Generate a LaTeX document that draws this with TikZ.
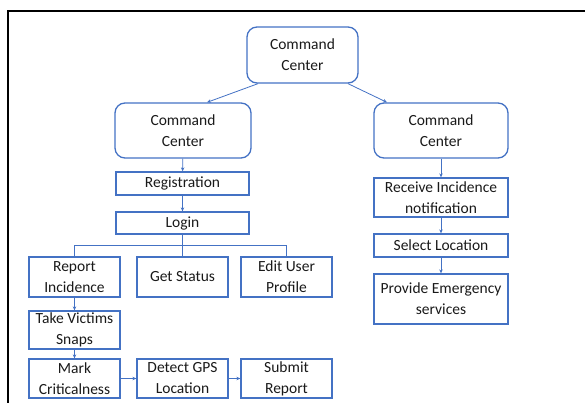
\documentclass[tikz,border=0pt]{standalone}
\usepackage{fontspec}
\setmainfont{Carlito}
\usetikzlibrary{arrows.meta,calc}
\definecolor{bl}{HTML}{4472C4}
\begin{document}
\begin{tikzpicture}[x=1pt,y=-1pt,
  box/.style={draw=bl,line width=1.3pt,align=center,inner sep=0pt,font=\fontsize{15.5}{21}\selectfont,text=black!90},
  rbox/.style={box,rounded corners=10pt},
  arr/.style={draw=bl,line width=0.8pt,-{Stealth[length=4pt,width=3.5pt]}},
  ln/.style={draw=bl,line width=0.8pt}]
\useasboundingbox (0,0) rectangle (585,403);
\begin{scope}
\clip (0,0) rectangle (585,403);
\draw[line width=2pt] (8,11) rectangle (600,420);
\end{scope}
\node[rbox,minimum width=111pt,minimum height=56pt] (top) at (302.5,55) {Command\\Center};
\node[rbox,minimum width=136pt,minimum height=55pt] (lcc) at (183,130.5) {Command\\Center};
\node[rbox,minimum width=134pt,minimum height=55pt] (rcc) at (441,130.5) {Command\\Center};
\node[box,minimum width=133pt,minimum height=23pt] (reg) at (182.5,183.5) {Registration};
\node[box,minimum width=133pt,minimum height=22pt] (login) at (182.5,223) {Login};
\node[box,minimum width=91pt,minimum height=40pt] (report) at (74.5,277) {Report\\Incidence};
\node[box,minimum width=91pt,minimum height=40pt] (status) at (182.5,277) {Get Status};
\node[box,minimum width=91pt,minimum height=40pt] (edit) at (286.5,277) {Edit User\\Profile};
\node[box,minimum width=91pt,minimum height=38pt] (take) at (74.5,330) {Take Victims\\Snaps};
\node[box,minimum width=91pt,minimum height=39pt] (mark) at (74.5,378.5) {Mark\\Criticalness};
\node[box,minimum width=91pt,minimum height=39pt] (gps) at (182.5,378.5) {Detect GPS\\Location};
\node[box,minimum width=91pt,minimum height=39pt] (submit) at (286.5,378.5) {Submit\\Report};
\node[box,minimum width=134pt,minimum height=39pt] (recv) at (441,197.5) {Receive Incidence\\notification};
\node[box,minimum width=134pt,minimum height=23pt] (sel) at (441,245.5) {Select Location};
\node[box,minimum width=134pt,minimum height=50pt] (prov) at (441,299) {Provide Emergency\\services};
\draw[arr] ([xshift=-44.5pt]top.south) -- ([xshift=24pt]lcc.north);
\draw[arr] ([xshift=45.5pt]top.south) -- ([xshift=-54pt]rcc.north);
\draw[arr] (lcc) -- (reg);
\draw[arr] (reg) -- (login);
\draw[ln] (login) -- (status);
\draw[ln] (report.north) |- ([yshift=11pt]status.north) -| (edit.north);
\draw[arr] (report) -- (take);
\draw[arr] (take) -- (mark);
\draw[arr] (mark) -- (gps);
\draw[arr] (gps) -- (submit);
\draw[arr] (rcc) -- (recv);
\draw[arr] (recv) -- (sel);
\draw[arr] (sel) -- (prov);
\end{tikzpicture}
\end{document}
